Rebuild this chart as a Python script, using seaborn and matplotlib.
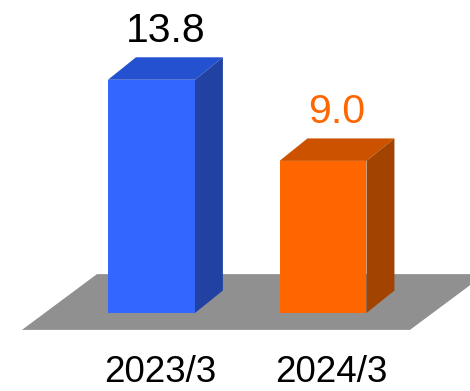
import matplotlib
matplotlib.use("Agg")
import matplotlib.pyplot as plt
import matplotlib.transforms as mtransforms
from matplotlib.patches import Polygon
import pandas as pd
import seaborn as sns

# Data
periods = ["2023/3", "2024/3"]
values = [13.8, 9.0]
value_labels = ["13.8", "9.0"]

# Colours: front face, top face, side face, value label
front_colors = ["#3366FF", "#FF6600"]
top_colors = ["#2451CF", "#CC5200"]
side_colors = ["#2142A2", "#A34300"]
label_colors = ["#000000", "#FF6600"]
floor_color = "#909090"

sns.set_theme(style="white")
plt.rcParams["font.family"] = ["Liberation Sans", "DejaVu Sans"]

fig = plt.figure(figsize=(4.7, 3.91), dpi=100)
ax = fig.add_axes([0, 0, 1, 1])

df = pd.DataFrame({"period": periods, "value": values})
sns.barplot(data=df, x="period", y="value", hue="period",
            palette=front_colors, saturation=1, width=0.507,
            legend=False, linewidth=0, ax=ax, zorder=3)

ax.set_xlim(-0.883, 1.857)
ax.set_ylim(-4.615, 18.52)
ax.axis("off")

# Oblique depth offsets for the bar boxes (data units)
DX, DY = 0.163, 1.33

# Grey floor under the bars
floor_front, floor_back = -1.0, 2.3
floor_left, floor_right, floor_shear = -0.755, 1.507, 0.437
ax.add_patch(Polygon([(floor_left, floor_front), (floor_right, floor_front),
                      (floor_right + floor_shear, floor_back),
                      (floor_left + floor_shear, floor_back)],
                     closed=True, facecolor=floor_color, edgecolor="none",
                     zorder=1))

for bar, top_c, side_c, lab, lab_c in zip(ax.patches[:len(values)], top_colors,
                                         side_colors, value_labels, label_colors):
    x0 = bar.get_x()
    x1 = x0 + bar.get_width()
    h = bar.get_height()
    # top face
    ax.add_patch(Polygon([(x0, h), (x1, h), (x1 + DX, h + DY), (x0 + DX, h + DY)],
                         closed=True, facecolor=top_c, edgecolor="none", zorder=3))
    # right side face
    ax.add_patch(Polygon([(x1, 0), (x1 + DX, DY), (x1 + DX, h + DY), (x1, h)],
                         closed=True, facecolor=side_c, edgecolor="none", zorder=3))
    # value label above the box
    cx = (x0 + x1) / 2 + DX / 2
    ax.annotate(lab, xy=(cx, h + DY), xytext=(0, 11), textcoords="offset points",
                ha="center", va="baseline", fontsize=29.5, color=lab_c)

# Category labels along the bottom
trans = mtransforms.blended_transform_factory(ax.transData, ax.transAxes)
for i, p in enumerate(periods):
    ax.text(i + DX * 0.3, 0.5 / 391, p, transform=trans, ha="center",
            va="bottom", fontsize=26.5, color="#000000")

fig.savefig("out.png", dpi=100)
